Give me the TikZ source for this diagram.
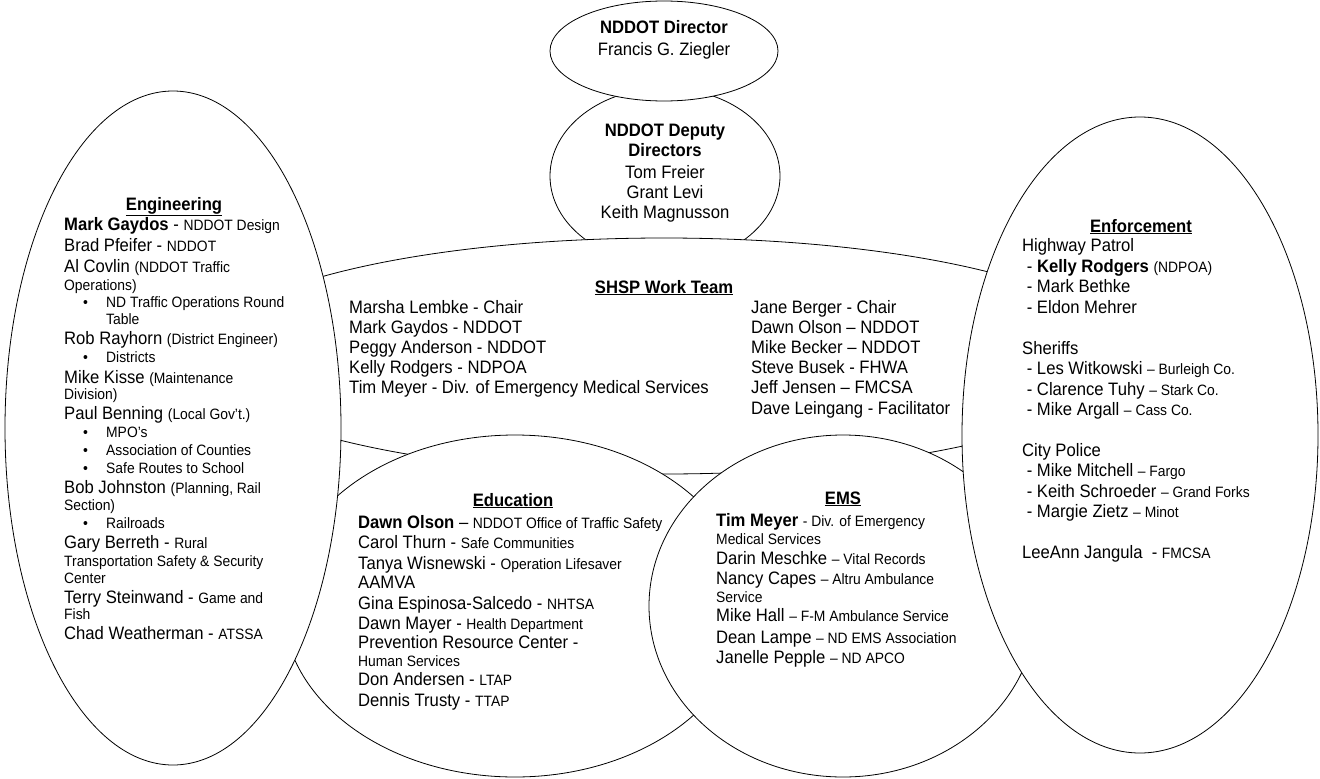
\documentclass[tikz,border=0pt]{standalone}
\usepackage{fontspec}
\setmainfont{Liberation Sans}[FakeStretch=0.925]
\usetikzlibrary{shapes.geometric}
\newcommand\mainsz{\fontsize{18}{20}\selectfont}
\newcommand\smtx[1]{{\fontsize{15}{17}\selectfont #1}}
\newcommand\bul{\makebox[23pt][l]{\fontsize{15}{17}\selectfont\textbullet}}
\tikzset{
  oval/.style={ellipse, draw=black, fill=white, line width=0.8pt, inner sep=0pt},
  txt/.style={anchor=base west, inner sep=0pt, font=\mainsz},
  ctr/.style={anchor=base, inner sep=0pt, font=\mainsz},
}
\begin{document}
\begin{tikzpicture}[x=1pt,y=-1pt]
\useasboundingbox (0,0) rectangle (1320,779);
\fill[white] (0,0) rectangle (1320,779);
% shapes (back to front)
\node[oval, minimum width=230pt, minimum height=176pt] (deputy) at (665,176) {};
\node[oval, minimum width=228pt, minimum height=100pt] (director) at (664,51) {};
\node[oval, minimum width=924pt, minimum height=236pt] (shsp) at (664,356) {};
\node[oval, minimum width=464pt, minimum height=342pt] (education) at (515,606) {};
\node[oval, minimum width=388pt, minimum height=342pt] (ems) at (843,606) {};
\node[oval, minimum width=336pt, minimum height=674pt] (engineering) at (173,428) {};
\node[oval, minimum width=356pt, minimum height=636pt] (enforcement) at (1140,435) {};

% director
\node[ctr] (dirA) at (664,34) {\bfseries NDDOT Director};
\node[ctr] (dirB) at (664,55) {Francis G. Ziegler};
% deputy
\node[ctr] (depA) at (665,136) {\bfseries NDDOT Deputy};
\node[ctr] (depB) at (665,156) {\bfseries Directors};
\node[ctr] (depC) at (665,178) {Tom Freier};
\node[ctr] (depD) at (665,198) {Grant Levi};
\node[ctr] (depE) at (665,218) {Keith Magnusson};

% SHSP
\node[ctr] (shT) at (664,293) {\bfseries\underline{SHSP Work Team}};
\node[txt] (shL1) at (349,313) {Marsha Lembke - Chair};
\node[txt] (shL2) at (349,333) {Mark Gaydos - NDDOT};
\node[txt] (shL3) at (349,353) {Peggy Anderson - NDDOT};
\node[txt] (shL4) at (349,373) {Kelly Rodgers - NDPOA};
\node[txt] (shL5) at (349,393) {Tim Meyer - Div. of Emergency Medical Services};
\node[txt] (shR1) at (751,313) {Jane Berger - Chair};
\node[txt] (shR2) at (751,333) {Dawn Olson -- NDDOT};
\node[txt] (shR3) at (751,353) {Mike Becker -- NDDOT};
\node[txt] (shR4) at (751,373) {Steve Busek - FHWA};
\node[txt] (shR5) at (751,393) {Jeff Jensen -- FMCSA};
\node[txt] (shR6) at (751,414) {Dave Leingang - Facilitator};

% Engineering
\node[ctr] (enT) at (174,210) {\bfseries\underline{Engineering}};
\node[txt] (en1) at (64,230) {\textbf{Mark Gaydos} - \smtx{NDDOT Design}};
\node[txt] (en2) at (64,251) {Brad Pfeifer - \smtx{NDDOT}};
\node[txt] (en3) at (64,272) {Al Covlin \smtx{(NDDOT Traffic}};
\node[txt] (en4) at (64,290) {\smtx{Operations)}};
\node[txt] (en5) at (83,307) {\bul\smtx{ND Traffic Operations Round}};
\node[txt] (en6) at (106,324) {\smtx{Table}};
\node[txt] (en7) at (64,344) {Rob Rayhorn \smtx{(District Engineer)}};
\node[txt] (en8) at (83,362) {\bul\smtx{Districts}};
\node[txt] (en9) at (64,383) {Mike Kisse \smtx{(Maintenance}};
\node[txt] (en10) at (64,399) {\smtx{Division)}};
\node[txt] (en11) at (64,419) {Paul Benning \smtx{(Local Gov't.)}};
\node[txt] (en12) at (83,437) {\bul\smtx{MPO's}};
\node[txt] (en13) at (83,455) {\bul\smtx{Association of Counties}};
\node[txt] (en14) at (83,473) {\bul\smtx{Safe Routes to School}};
\node[txt] (en15) at (64,493) {Bob Johnston \smtx{(Planning, Rail}};
\node[txt] (en16) at (64,510) {\smtx{Section)}};
\node[txt] (en17) at (83,528) {\bul\smtx{Railroads}};
\node[txt] (en18) at (64,548) {Gary Berreth - \smtx{Rural}};
\node[txt] (en19) at (64,566) {\smtx{Transportation Safety \& Security}};
\node[txt] (en20) at (64,583) {\smtx{Center}};
\node[txt] (en21) at (64,603) {Terry Steinwand - \smtx{Game and}};
\node[txt] (en22) at (64,619) {\smtx{Fish}};
\node[txt] (en23) at (64,639) {Chad Weatherman - \smtx{ATSSA}};

% Enforcement
\node[ctr] (efT) at (1141,232) {\bfseries\underline{Enforcement}};
\node[txt] (ef1) at (1022,251) {Highway Patrol};
\node[txt] (ef2) at (1022,272) {\ - \textbf{Kelly Rodgers} \smtx{(NDPOA)}};
\node[txt] (ef3) at (1022,292) {\ - Mark Bethke};
\node[txt] (ef4) at (1022,313) {\ - Eldon Mehrer};
\node[txt] (ef5) at (1022,354) {Sheriffs};
\node[txt] (ef6) at (1022,374) {\ - Les Witkowski \smtx{-- Burleigh Co.}};
\node[txt] (ef7) at (1022,395) {\ - Clarence Tuhy \smtx{-- Stark Co.}};
\node[txt] (ef8) at (1022,415) {\ - Mike Argall \smtx{-- Cass Co.}};
\node[txt] (ef9) at (1022,456) {City Police};
\node[txt] (ef10) at (1022,476) {\ - Mike Mitchell \smtx{-- Fargo}};
\node[txt] (ef11) at (1022,497) {\ - Keith Schroeder \smtx{-- Grand Forks}};
\node[txt] (ef12) at (1022,517) {\ - Margie Zietz \smtx{-- Minot}};
\node[txt] (ef13) at (1022,558) {LeeAnn Jangula\ \ - \smtx{FMCSA}};

% Education
\node[ctr] (edT) at (513,506) {\bfseries\underline{Education}};
\node[txt] (ed1) at (358,528) {\textbf{Dawn Olson} -- \smtx{NDDOT Office of Traffic Safety}};
\node[txt] (ed2) at (358,548) {Carol Thurn - \smtx{Safe Communities}};
\node[txt] (ed3) at (358,569) {Tanya Wisnewski - \smtx{Operation Lifesaver}};
\node[txt] (ed4) at (358,588) {AAMVA};
\node[txt] (ed5) at (358,609) {Gina Espinosa-Salcedo - \smtx{NHTSA}};
\node[txt] (ed6) at (358,629) {Dawn Mayer - \smtx{Health Department}};
\node[txt] (ed7) at (358,648) {Prevention Resource Center -};
\node[txt] (ed8) at (358,666) {\smtx{Human Services}};
\node[txt] (ed9) at (358,685) {Don Andersen - \smtx{LTAP}};
\node[txt] (ed10) at (358,706) {Dennis Trusty - \smtx{TTAP}};

% EMS
\node[ctr] (emT) at (843,504) {\bfseries\underline{EMS}};
\node[txt] (em1) at (716,526) {\textbf{Tim Meyer} \smtx{- Div. of Emergency}};
\node[txt] (em2) at (716,544) {\smtx{Medical Services}};
\node[txt] (em3) at (716,564) {Darin Meschke \smtx{-- Vital Records}};
\node[txt] (em4) at (716,584) {Nancy Capes \smtx{-- Altru Ambulance}};
\node[txt] (em5) at (716,602) {\smtx{Service}};
\node[txt] (em6) at (716,621) {Mike Hall \smtx{-- F-M Ambulance Service}};
\node[txt] (em7) at (716,643) {Dean Lampe \smtx{-- ND EMS Association}};
\node[txt] (em8) at (716,663) {Janelle Pepple \smtx{-- ND APCO}};
\end{tikzpicture}
\end{document}
